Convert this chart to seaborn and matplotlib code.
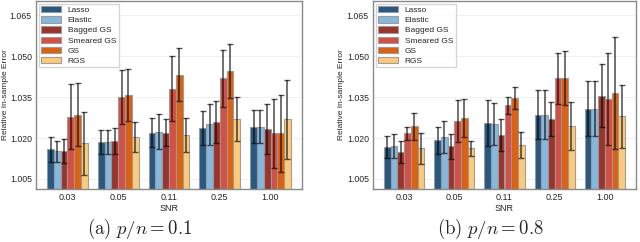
import numpy as np
import pandas as pd
import matplotlib
matplotlib.use("Agg")
import matplotlib.pyplot as plt
import seaborn as sns

# data
snr = ["0.03", "0.05", "0.11", "0.25", "1.00"]
methods = ["Lasso", "Elastic", "Bagged GS", "Smeared GS", "GS", "RGS"]
colors = ["#1c4e78", "#80b3da", "#952a22", "#d2453a", "#d85a05", "#fcc873"]

# p/n = 0.1: rows = methods, columns = SNR
mean_a = [
    [1.0158, 1.0186, 1.0220, 1.0237, 1.0241],
    [1.0152, 1.0186, 1.0224, 1.0251, 1.0242],
    [1.0153, 1.0189, 1.0220, 1.0260, 1.0233],
    [1.0278, 1.0351, 1.0381, 1.0419, 1.0217],
    [1.0286, 1.0359, 1.0433, 1.0446, 1.0217],
    [1.0180, 1.0204, 1.0211, 1.0271, 1.0269],
]
err_a = [
    [0.0047, 0.0044, 0.0052, 0.0064, 0.0061],
    [0.0039, 0.0043, 0.0066, 0.0075, 0.0062],
    [0.0044, 0.0047, 0.0050, 0.0077, 0.0093],
    [0.0119, 0.0099, 0.0119, 0.0105, 0.0128],
    [0.0116, 0.0096, 0.0097, 0.0099, 0.0140],
    [0.0116, 0.0056, 0.0061, 0.0080, 0.0145],
]

# p/n = 0.8
mean_b = [
    [1.0166, 1.0192, 1.0256, 1.0286, 1.0308],
    [1.0170, 1.0204, 1.0253, 1.0286, 1.0308],
    [1.0149, 1.0169, 1.0211, 1.0269, 1.0355],
    [1.0217, 1.0263, 1.0320, 1.0419, 1.0343],
    [1.0243, 1.0274, 1.0347, 1.0421, 1.0366],
    [1.0162, 1.0162, 1.0174, 1.0245, 1.0280],
]
err_b = [
    [0.0041, 0.0049, 0.0085, 0.0089, 0.0101],
    [0.0045, 0.0060, 0.0077, 0.0089, 0.0101],
    [0.0042, 0.0046, 0.0060, 0.0063, 0.0116],
    [0.0025, 0.0076, 0.0031, 0.0094, 0.0169],
    [0.0049, 0.0069, 0.0040, 0.0099, 0.0206],
    [0.0058, 0.0028, 0.0049, 0.0088, 0.0116],
]

sns.set_theme(style="whitegrid")
plt.rcParams["font.family"] = ["Liberation Sans", "DejaVu Sans"]
plt.rcParams["mathtext.fontset"] = "cm"

fig = plt.figure(figsize=(6.4, 2.42), dpi=100)
ax_a = fig.add_axes([36 / 640, 1 - 189 / 242, 266 / 640, 188 / 242])
ax_b = fig.add_axes([373 / 640, 1 - 189 / 242, 263 / 640, 188 / 242])


def draw_panel(ax, means, errs, label_x):
    rows = []
    for m, vals, es in zip(methods, means, errs):
        for s, v, e in zip(snr, vals, es):
            rows.append({"SNR": s, "method": m, "value": v, "err": e})
    df = pd.DataFrame(rows)
    sns.barplot(data=df, x="SNR", y="value", hue="method", hue_order=methods,
                order=snr, palette=colors, errorbar=None, width=0.8,
                saturation=1, edgecolor="#9a9a9a", linewidth=0.8, alpha=0.95, ax=ax)
    # error bars at the bar centres drawn by seaborn
    for container, m in zip(ax.containers, methods):
        sub = df[df["method"] == m].set_index("SNR").loc[snr]
        xs = [p.get_x() + p.get_width() / 2 for p in container.patches]
        ax.errorbar(xs, sub["value"], yerr=sub["err"], fmt="none",
                    ecolor="black", elinewidth=1.2, capsize=2, capthick=1,
                    alpha=0.65, zorder=5)
    ax.set_ylim(1.0013, 1.0703)
    ax.set_xlim(-0.62, 4.62)
    ax.set_yticks([1.005, 1.020, 1.035, 1.050, 1.065])
    ax.set_yticklabels(["1.005", "1.020", "1.035", "1.050", "1.065"])
    ax.tick_params(axis="y", labelsize=6.3, pad=3, length=0)
    ax.tick_params(axis="x", labelsize=6.5, pad=3, length=0)
    ax.set_xlabel("SNR", fontsize=6.5, labelpad=1)
    ax.set_ylabel("Relative In-sample Error", fontsize=6)
    ax.yaxis.set_label_coords(label_x, 0.5)
    ax.grid(axis="x", visible=False)
    ax.grid(axis="y", color="#eeeeee", linewidth=0.6)
    for sp in ax.spines.values():
        sp.set_edgecolor("#8a8a8a")
        sp.set_linewidth(1.0)
    ax.legend(loc="upper left", fontsize=6, frameon=True, borderpad=0.3,
              labelspacing=0.25, handlelength=2.4, handleheight=0.8,
              borderaxespad=0.3, edgecolor="#cccccc", fancybox=False)


draw_panel(ax_a, mean_a, err_a, -0.100)
draw_panel(ax_b, mean_b, err_b, -0.108)

fig.text(140 / 640, 1 - 229 / 242, r"$\mathrm{(a)}\ p/n = 0.1$", ha="center",
         va="center", fontsize=13.5)
fig.text(490 / 640, 1 - 229 / 242, r"$\mathrm{(b)}\ p/n = 0.8$", ha="center",
         va="center", fontsize=13.5)

fig.savefig("out.png", dpi=100)
